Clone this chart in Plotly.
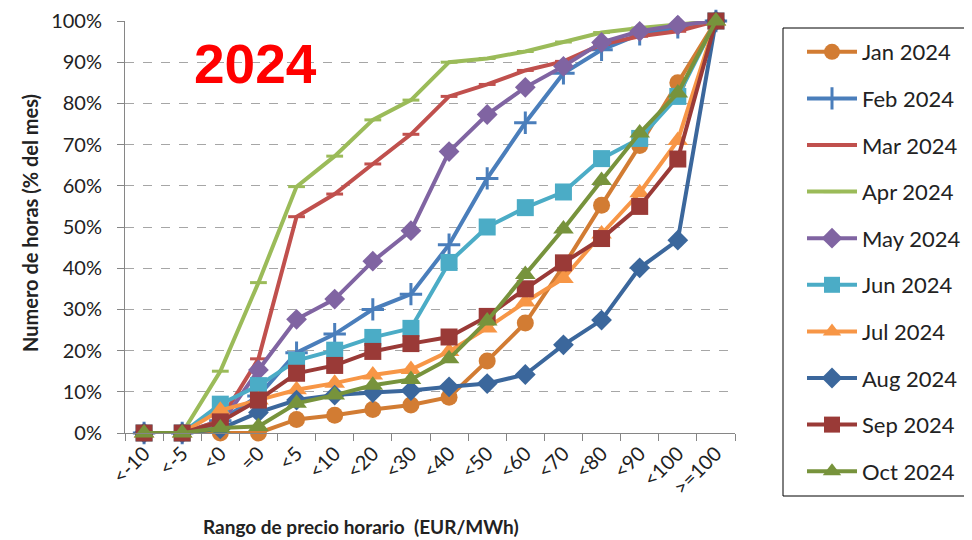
import plotly.graph_objects as go

# Rangos de precio (categorias del eje X)
rangos = ["<-10", "<-5", "<0", "=0", "<5", "<10", "<20", "<30", "<40", "<50",
          "<60", "<70", "<80", "<90", "<100", ">=100"]

# % acumulado de horas del mes
jan = [0, 0, 0, 0, 3.3, 4.3, 5.7, 6.8, 8.7, 17.5, 26.7, 40.5, 55.3, 69.8, 85.0, 100]
feb = [0, 0, 3, 9, 19.5, 24, 30, 33.7, 45.7, 61.8, 75.3, 87.3, 93, 96.8, 98.5, 100]
mar = [0, 0, 3, 18, 52.5, 58, 65.3, 72.5, 81.7, 84.6, 88, 90.2, 94.3, 96.3, 97.5, 100]
apr = [0, 0, 15, 36.5, 59.8, 67.2, 76, 80.8, 90, 90.9, 92.6, 94.9, 97.2, 98.3, 99.2, 100]
may = [0, 0, 2, 15.3, 27.6, 32.5, 41.7, 49.1, 68.3, 77.3, 83.9, 89, 94.8, 97.5, 99, 100]
jun = [0, 0, 7, 11.5, 17.6, 20.1, 23.2, 25.4, 41.4, 50, 54.7, 58.5, 66.6, 71.5, 81.7, 100]
jul = [0, 0, 5.5, 8, 10.5, 12.1, 14.1, 15.4, 19.8, 25.5, 31.8, 37.5, 48.3, 58.3, 71, 100]
aug = [0, 0, 1, 5, 8, 9.2, 9.8, 10.3, 11.2, 12, 14.2, 21.4, 27.4, 40.1, 46.8, 100]
sep = [0, 0, 2.7, 8, 14.5, 16.4, 19.8, 21.7, 23.3, 28.3, 35, 41.3, 47.2, 55, 66.5, 100]
oct_ = [0, 0, 1.2, 1.6, 7.2, 9.2, 11.6, 13, 18, 27.2, 38.5, 49.5, 61.3, 72.8, 82.5, 100]

meses = ["Jan 2024", "Feb 2024", "Mar 2024", "Apr 2024", "May 2024",
         "Jun 2024", "Jul 2024", "Aug 2024", "Sep 2024", "Oct 2024"]

# (valores, color, simbolo, tamaño)
series = [
    (jan, "#D27C33", "circle", 17),
    (feb, "#4A7EBB", "cross-thin", 16),
    (mar, "#C0504D", "line-ew", 12),
    (apr, "#9BBB59", "line-ew", 12),
    (may, "#8064A2", "diamond", 16),
    (jun, "#4BACC6", "square", 17),
    (jul, "#F79646", "triangle-up", 18),
    (aug, "#3B679C", "diamond", 16),
    (sep, "#9A3A37", "square", 17),
    (oct_, "#77933C", "triangle-up", 18),
]

FONT = "Lato, Open Sans, sans-serif"
OFF = 8  # margen del <body> de la pagina
W, H = 972 - OFF, 540 - OFF
L, R, T, B = 125 - OFF, 237, 21 - OFF, 107
PW, PH = W - L - R, H - T - B


def px(x):
    return (x - OFF - L) / PW


def py(y):
    return (H - B - (y - OFF)) / PH


fig = go.Figure()
for nombre, (vals, col, sym, sz) in zip(meses, series):
    if sym in ("cross-thin", "line-ew"):
        mk = dict(symbol=sym, size=sz, color=col, line=dict(color=col, width=3))
    else:
        mk = dict(symbol=sym, size=sz, color=col, line=dict(width=0))
    fig.add_trace(go.Scatter(
        x=rangos, y=vals, name=nombre, mode="lines+markers",
        line=dict(color=col, width=4), marker=mk,
        legendgroup=nombre, cliponaxis=False,
    ))

fig.update_layout(
    width=W, height=H,
    margin=dict(l=L, r=R, t=T, b=B, autoexpand=False),
    plot_bgcolor="white", paper_bgcolor="white",
    font=dict(family=FONT, size=18, color="#222222"),
    showlegend=True,
    legend=dict(
        x=px(802), y=1 - (31 - OFF) / H, xanchor="left", yanchor="top",
        yref="container", maxheight=1,
        font=dict(size=22, color="#222222"),
        traceorder="grouped", tracegroupgap=15,
        itemwidth=50, borderwidth=0,
        bgcolor="rgba(0,0,0,0)",
    ),
)

fig.update_xaxes(
    type="category", range=[-0.5, 15.5], automargin=False,
    showline=True, linecolor="#868686", linewidth=1,
    ticks="outside", tickson="boundaries", ticklen=7, tickcolor="#868686",
    tickangle=-45, tickfont=dict(size=20), showgrid=False,
)
fig.update_yaxes(
    range=[0, 100], dtick=10, ticksuffix="%", automargin=False,
    showline=True, linecolor="#868686", linewidth=1,
    ticks="outside", ticklen=7, tickcolor="#868686", ticklabelstandoff=11,
    tickfont=dict(size=20), showgrid=True, gridcolor="#A6A6A6",
    griddash="dash", gridwidth=1, zeroline=False,
)

# recuadro blanco del titulo "2024" (tapa la rejilla)
fig.add_shape(type="rect", xref="paper", yref="paper",
              x0=px(155), x1=px(353), y0=py(125), y1=py(OFF),
              fillcolor="white", line=dict(width=0), layer="between")
fig.add_annotation(text="<b>2024</b>", xref="paper", yref="paper",
                   x=px(255), y=py(64), xanchor="center", yanchor="middle",
                   showarrow=False,
                   font=dict(family="Liberation Sans, Arial", size=55, color="#FF0000"))

# recuadro de la leyenda
fig.add_shape(type="rect", xref="paper", yref="paper",
              x0=px(783), x1=px(971), y0=py(496), y1=py(28),
              line=dict(color="black", width=1), fillcolor="rgba(0,0,0,0)")

# titulos de ejes
fig.add_annotation(text="<b>Numero de horas (% del mes)</b>", xref="paper", yref="paper",
                   x=px(30), y=py(223), xanchor="center", yanchor="middle",
                   textangle=-90, showarrow=False,
                   font=dict(size=20, color="#222222"))
fig.add_annotation(text="<b>Rango de precio horario  (EUR/MWh)</b>", xref="paper", yref="paper",
                   x=px(361), y=py(526), xanchor="center", yanchor="middle",
                   showarrow=False, font=dict(size=19, color="#222222"))

fig.write_html("out.html")
